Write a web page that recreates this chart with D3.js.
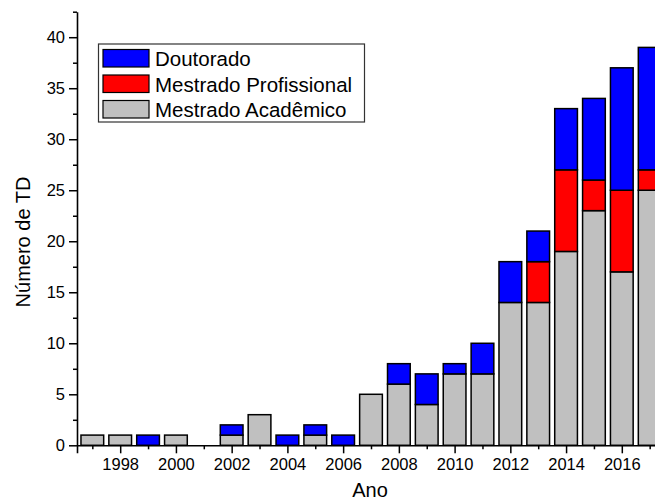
<!DOCTYPE html>
<html>
<head>
<meta charset="utf-8">
<script src="https://cdn.jsdelivr.net/npm/d3@7"></script>
<style>
  body { margin: 0; background: #fff; }
  svg { display: block; font-family: "Liberation Sans", Arial, sans-serif; }
</style>
</head>
<body>
<div id="chart"></div>
<script>
// data
var years = [1997, 1998, 1999, 2000, 2001, 2002, 2003, 2004, 2005, 2006, 2007,
             2008, 2009, 2010, 2011, 2012, 2013, 2014, 2015, 2016, 2017];
var mestradoAcademico   = [1, 1, 0, 1, 0, 1, 3, 0, 1, 0, 5, 6, 4, 7, 7, 14, 14, 19, 23, 17, 25];
var mestradoProfissional = [0, 0, 0, 0, 0, 0, 0, 0, 0, 0, 0, 0, 0, 0, 0, 0, 4, 8, 3, 8, 2];
var doutorado           = [0, 0, 1, 0, 0, 1, 0, 1, 1, 1, 0, 2, 3, 1, 3, 4, 3, 6, 8, 12, 12];
var seriesNames = ["Mestrado Acadêmico", "Mestrado Profissional", "Doutorado"];
var seriesColors = ["#c0c0c0", "#ff0000", "#0000ff"];
var yTicks = [0, 5, 10, 15, 20, 25, 30, 35, 40];
var xTicks = [1998, 2000, 2002, 2004, 2006, 2008, 2010, 2012, 2014, 2016];

var width = 655, height = 501;

var svg = d3.select("#chart").append("svg")
    .attr("width", width)
    .attr("height", height);

// scales
var x = d3.scaleLinear()
    .domain([1996.45, 2017.55])
    .range([77, 665]);
var y = d3.scaleLinear()
    .domain([0, 42.5])
    .range([445.3, 11.7]);

var step = x(1998) - x(1997);
var barW = step * 0.815;

// build rows for the stack
var rows = years.map(function(yr, i) {
  return {
    year: yr,
    "Mestrado Acadêmico": mestradoAcademico[i],
    "Mestrado Profissional": mestradoProfissional[i],
    "Doutorado": doutorado[i]
  };
});
var stacked = d3.stack().keys(seriesNames)(rows);

svg.append("g")
  .selectAll("g")
  .data(stacked)
  .enter().append("g")
    .attr("fill", function(d, i) { return seriesColors[i]; })
  .selectAll("rect")
  .data(function(d) { return d.filter(function(p) { return p[1] > p[0]; }); })
  .enter().append("rect")
    .attr("x", function(d) { return x(d.data.year) - barW / 2; })
    .attr("width", barW)
    .attr("y", function(d) { return y(d[1]); })
    .attr("height", function(d) { return y(d[0]) - y(d[1]); })
    .attr("stroke", "#000")
    .attr("stroke-width", 1.5);

// x axis: major with labels, minor on odd years
var xAxis = svg.append("g")
    .attr("transform", "translate(0," + y(0) + ")")
    .call(d3.axisBottom(x).tickValues(xTicks).tickFormat(d3.format("d")).tickSize(8).tickPadding(5))
xAxis.select(".domain").attr("stroke-width", 1.6);
xAxis.selectAll(".tick line").attr("stroke-width", 1.5);
xAxis.selectAll("text").style("font-size", "16.5px").attr("fill", "#000");

var xMinor = svg.append("g")
    .attr("transform", "translate(0," + y(0) + ")")
    .call(d3.axisBottom(x).tickValues(years.filter(function(v) { return v % 2; })).tickFormat("").tickSize(4));
xMinor.select(".domain").remove();
xMinor.selectAll(".tick line").attr("stroke-width", 1.5);

// y axis
var yAxis = svg.append("g")
    .attr("transform", "translate(77,0)")
    .call(d3.axisLeft(y).tickValues(yTicks).tickSize(8).tickPadding(4).tickSizeOuter(0));
yAxis.select(".domain").attr("stroke-width", 1.6);
yAxis.selectAll(".tick line").attr("stroke-width", 1.5);
yAxis.selectAll("text").style("font-size", "16.5px").attr("fill", "#000");

var yMinor = svg.append("g")
    .attr("transform", "translate(77,0)")
    .call(d3.axisLeft(y).tickValues(d3.range(2.5, 43, 5)).tickFormat("").tickSize(4));
yMinor.select(".domain").remove();
yMinor.selectAll(".tick line").attr("stroke-width", 1.5);

// axis titles
svg.append("text")
    .attr("x", 370)
    .attr("y", 497)
    .attr("text-anchor", "middle")
    .style("font-size", "20px")
    .text("Ano");

svg.append("text")
    .attr("transform", "translate(30,242) rotate(-90)")
    .attr("text-anchor", "middle")
    .style("font-size", "20px")
    .text("Número de TD");

// legend (top to bottom: Doutorado, Profissional, Acadêmico)
var legend = svg.append("g");
legend.append("rect")
    .attr("x", 98.5).attr("y", 44)
    .attr("width", 266).attr("height", 78)
    .attr("fill", "#fff")
    .attr("stroke", "#333")
    .attr("stroke-width", 1.2);

var legendOrder = [2, 1, 0];
legendOrder.forEach(function(k, i) {
  var top = 49.5 + i * 25.5;
  legend.append("rect")
    .attr("x", 103).attr("y", top)
    .attr("width", 46).attr("height", 17.5)
    .attr("fill", seriesColors[k])
    .attr("stroke", "#000")
    .attr("stroke-width", 1.2);
  legend.append("text")
    .attr("x", 155)
    .attr("y", top + 16.5)
    .style("font-size", "20.5px")
    .text(seriesNames[k]);
});
</script>
</body>
</html>
